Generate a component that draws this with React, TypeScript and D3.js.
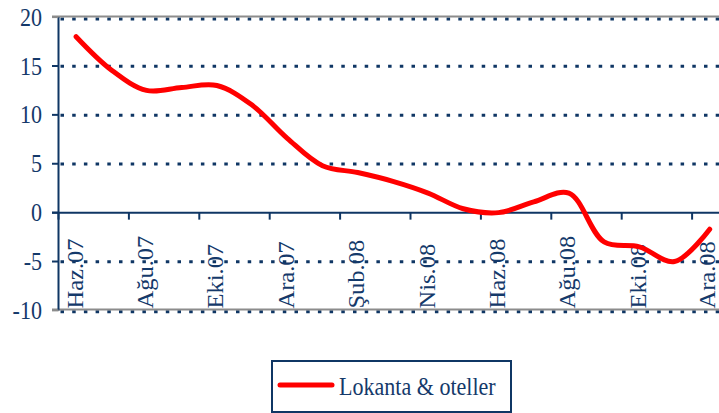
import React from "react";
import * as d3 from "d3";

const months = [
  "Haz.07", "Tem.07", "Ağu.07", "Eyl.07", "Eki.07", "Kas.07", "Ara.07",
  "Oca.08", "Şub.08", "Mar.08", "Nis.08", "May.08", "Haz.08", "Tem.08",
  "Ağu.08", "Eyl.08", "Eki.08", "Kas.08", "Ara.08",
];
const values = [
  18.0, 14.6, 12.5, 12.8, 13.0, 11.0, 7.6, 4.8, 4.1, 3.2, 2.0, 0.4, 0.0, 1.1,
  2.0, -3.0, -3.5, -5.0, -1.7,
];
const yTicks = [-10, -5, 0, 5, 10, 15, 20];
const gridValues = [-10, -5, 5, 10, 15, 20];
const seriesName = "Lokanta & oteller";

const W = 719;
const H = 413;
const NAVY = "#0f3664";
const TXT = "#14396a";
const FS = 24.5;
const SX = 0.9;
const FONT = "'Liberation Serif', 'Times New Roman', Times, serif";

export default function App() {
  const left = 58.5;
  const step = 35.2;
  const x = d3
    .scaleBand<string>()
    .domain(months)
    .range([left, left + step * months.length])
    .paddingInner(0)
    .paddingOuter(0);
  const y = d3.scaleLinear().domain([-10, 20]).range([310.4, 17.1]);
  const right = left + step * months.length;

  const line = d3
    .line<number>()
    .x((_, i) => (x(months[i]) as number) + x.bandwidth() / 2)
    .y((d) => y(d))
    .curve(d3.curveCatmullRom.alpha(0.5));

  const tickIdx = months.map((_, i) => i).filter((i) => i % 2 === 0);
  const textStyle = { fontFamily: FONT };

  return (
    <svg
      width={W}
      height={H}
      style={{ position: "absolute", left: 0, top: 0, background: "#fff", fontFamily: FONT }}
    >
      {gridValues.map((v) => {
        const off = v === 20 ? 1.8 : v === -10 ? 1.3 : 0.3;
        return (
          <line
            key={"g" + v}
            x1={left + 2}
            x2={right}
            y1={y(v) + off}
            y2={y(v) + off}
            stroke={NAVY}
            strokeWidth={3}
            strokeDasharray="3.5 8.2"
          />
        );
      })}
      <line x1={52} x2={W} y1={y(20) - 0.5} y2={y(20) - 0.5} stroke="#8c8c8c" strokeWidth={2} />
      <line x1={52} x2={W} y1={y(-10) - 1} y2={y(-10) - 1} stroke="#8c8c8c" strokeWidth={2} />

      <line x1={left} x2={left} y1={y(20)} y2={y(-10)} stroke={NAVY} strokeWidth={2} />
      {yTicks.map((v) => (
        <g key={"yt" + v}>
          <line
            x1={52}
            x2={left}
            y1={y(v)}
            y2={y(v)}
            stroke={v === 20 || v === -10 ? "#8c8c8c" : NAVY}
            strokeWidth={2}
          />
          <text
            transform={`translate(42,${y(v)}) scale(${SX},1)`}
            textAnchor="end"
            dy="0.35em"
            fontSize={FS}
            fill={TXT}
            style={textStyle}
          >
            {v}
          </text>
        </g>
      ))}

      <line x1={52} x2={right} y1={y(0)} y2={y(0)} stroke={NAVY} strokeWidth={2} />
      {tickIdx.map((i) => {
        const tx = x(months[i]) as number;
        return (
          <line key={"xt" + i} x1={tx} x2={tx} y1={y(0)} y2={y(0) + 7} stroke={NAVY} strokeWidth={2} />
        );
      })}
      {tickIdx.map((i) => {
        const cx = Math.min((x(months[i]) as number) + x.bandwidth() / 2 + 6.5, 715);
        return (
          <text
            key={"xl" + i}
            transform={`translate(${cx},308.5) scale(${SX},1) rotate(-90)`}
            textAnchor="start"
            fontSize={FS}
            fill={TXT}
            style={textStyle}
          >
            {months[i]}
          </text>
        );
      })}

      <path
        d={line(values) || ""}
        fill="none"
        stroke="#ff0000"
        strokeWidth={5}
        strokeLinejoin="round"
        strokeLinecap="round"
      />

      <rect x={272} y={361} width={239} height={51} fill="#fff" stroke={NAVY} strokeWidth={2} />
      <line x1={280} x2={332} y1={385} y2={385} stroke="#ff0000" strokeWidth={5} strokeLinecap="round" />
      <text
        transform={`translate(339,395) scale(${SX},1)`}
        fontSize={FS}
        fill={TXT}
        style={textStyle}
      >
        {seriesName}
      </text>
    </svg>
  );
}
